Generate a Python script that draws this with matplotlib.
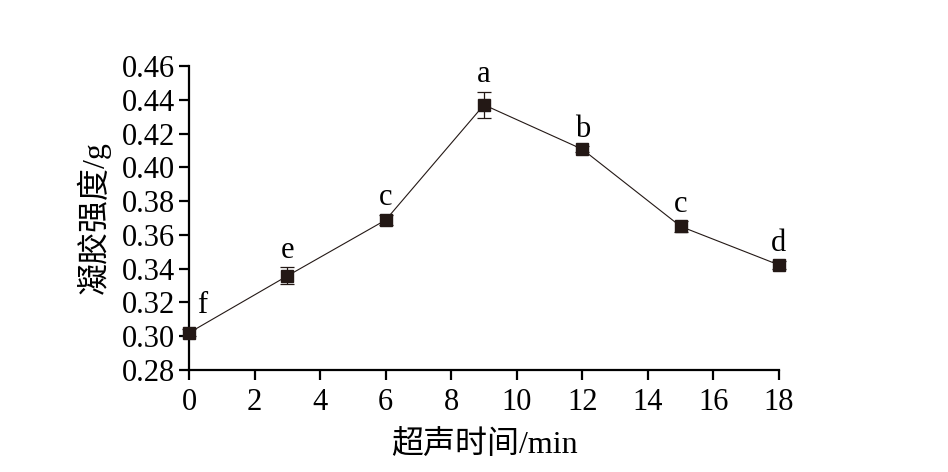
import matplotlib
matplotlib.use("Agg")
import matplotlib.pyplot as plt

plt.rcParams['font.family'] = ['Liberation Serif', 'Noto Sans CJK SC']

times = [0, 3, 6, 9, 12, 15, 18]
strength = [0.302, 0.3357, 0.3688, 0.437, 0.4107, 0.3650, 0.3422]
errors = [0.002, 0.005, 0.003, 0.0077, 0.0018, 0.003, 0.0025]
letters = ['f', 'e', 'c', 'a', 'b', 'c', 'd']
xticks = [0, 2, 4, 6, 8, 10, 12, 14, 16, 18]
yticks = [0.28, 0.30, 0.32, 0.34, 0.36, 0.38, 0.40, 0.42, 0.44, 0.46]

fig = plt.figure(figsize=(9.48, 4.72), dpi=100)
ax = fig.add_axes([189/948, 1 - 370/472, 590/948, 304/472])

ax.errorbar(times, strength, yerr=errors, color='#231815', marker='s', markersize=8.5,
            linewidth=0.8, elinewidth=0.9, capsize=5, capthick=0.9, clip_on=False, zorder=3)

for i, (x, y, e, t) in enumerate(zip(times, strength, errors, letters)):
    if i == 0:
        off = (9.5, 12)
    else:
        off = (0, 7)
    ax.annotate(t, (x, y + e), xytext=off, textcoords='offset points',
                ha='center', va='baseline', fontsize=22)

ax.set_xlim(0, 18)
ax.set_ylim(0.28, 0.46)
ax.set_xticks(xticks)
ax.set_yticks(yticks)
ax.set_yticklabels([f"{v:.2f}" for v in yticks])
for s in ['top', 'right']:
    ax.spines[s].set_visible(False)
for s in ['left', 'bottom']:
    ax.spines[s].set_linewidth(1.6)
ax.tick_params(direction='out', length=7, width=1.6, labelsize=22)
ax.tick_params(axis='x', pad=6)
ax.tick_params(axis='y', pad=3)
ax.set_xlabel('超声时间/min', fontsize=23, labelpad=9, fontweight='light')
ax.set_ylabel('凝胶强度/g', fontsize=23, labelpad=8, fontweight='light')

fig.savefig('out.png', dpi=100)
